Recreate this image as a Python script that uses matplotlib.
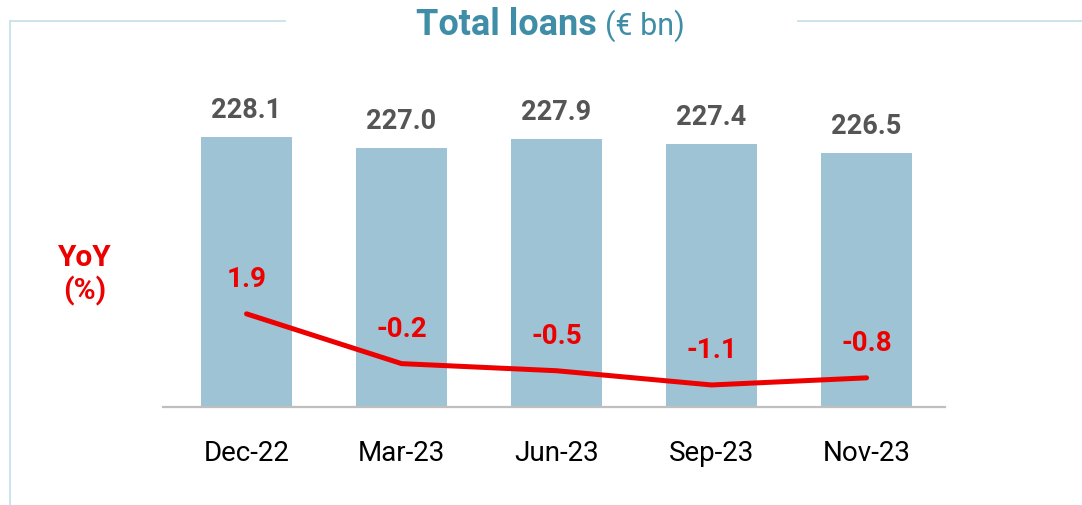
import matplotlib
matplotlib.use("Agg")
import matplotlib.pyplot as plt
from matplotlib.lines import Line2D

# data
periods = ["Dec-22", "Mar-23", "Jun-23", "Sep-23", "Nov-23"]
loans = [228.1, 227.0, 227.9, 227.4, 226.5]
yoy = [1.9, -0.2, -0.5, -1.1, -0.8]

bar_col = "#9DC3D4"
red = "#EC0000"
teal = "#3F8DA7"
frame_col = "#C8E2EA"

plt.rcParams["font.family"] = ["Roboto", "DejaVu Sans"]

W, H = 1082, 505
fig = plt.figure(figsize=(W / 100, H / 100), dpi=100)

ax = fig.add_axes([163 / W, 98 / H, 782 / W, 347 / H])
x = list(range(len(periods)))
ax.bar(x, loans, width=0.587, color=bar_col, zorder=1)
ax.set_xlim(-0.539, 4.506)
ax.set_ylim(201.1, 235.8)

for i, v in enumerate(loans):
    ax.annotate(f"{v:.1f}", (i, v), xytext=(0, 14), textcoords="offset points",
                ha="center", va="baseline", fontsize=19.5, fontweight="bold",
                color="#555555")

for s in ["top", "left", "right"]:
    ax.spines[s].set_visible(False)
ax.spines["bottom"].set_color("#BFBFBF")
ax.spines["bottom"].set_linewidth(1.6)
ax.set_yticks([])
ax.set_xticks(x)
ax.set_xticklabels(periods, fontsize=20, color="black")
ax.tick_params(axis="x", length=0, pad=24)

ax2 = ax.twinx()
ax2.set_ylim(-2.03, 12.61)
ax2.plot(x, yoy, color=red, lw=3.6, solid_capstyle="round", solid_joinstyle="round")
ax2.axis("off")
for i, v in enumerate(yoy):
    ax2.annotate(f"{v:.1f}", (i, v), xytext=(0, 19.5), textcoords="offset points",
                 ha="center", va="baseline", fontsize=20, fontweight="bold", color=red)

fig.text(85 / W, 1 - 275 / H, "YoY\n(%)", ha="center", va="center", fontsize=21.5,
         fontweight="bold", color=red, linespacing=1.2)

# title
fig.text(597 / W, 1 - 35 / H, "Total loans", ha="right", va="baseline",
         fontsize=26, fontweight="bold", color=teal)
fig.text(605 / W, 1 - 35 / H, "(€ bn)", ha="left", va="baseline",
         fontsize=22, color=teal)

# frame lines around the title
fy = 1 - 21 / H
fig.add_artist(Line2D([10 / W, 285 / W], [fy, fy], color=frame_col, lw=1.3))
fig.add_artist(Line2D([798 / W, 1.0], [fy, fy], color=frame_col, lw=1.3))
fig.add_artist(Line2D([10 / W, 10 / W], [fy, 0], color=frame_col, lw=1.3))

fig.savefig("out.png", dpi=100)
